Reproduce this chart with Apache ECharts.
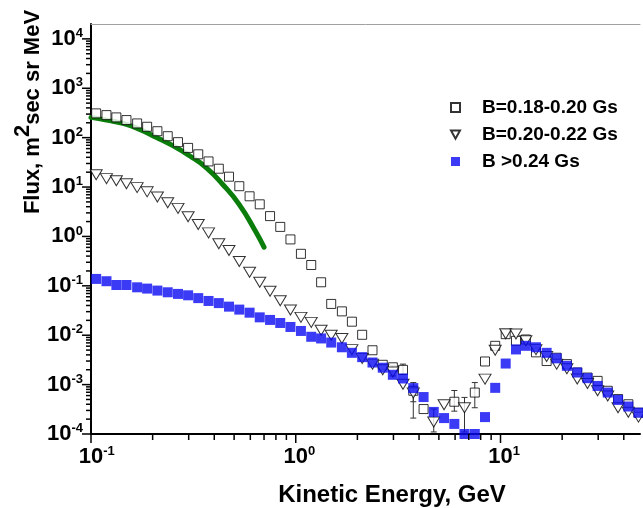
<!DOCTYPE html>
<html>
<head>
<meta charset="utf-8">
<script src="https://cdn.jsdelivr.net/npm/echarts@6/dist/echarts.min.js"></script>
<style>
  html, body { margin: 0; padding: 0; background: #fff; }
  #chart { width: 643px; height: 508px; }
</style>
</head>
<body>
<div id="chart"></div>
<script>
// kinetic energy (GeV)
const energy = [0.106, 0.119, 0.133, 0.149, 0.168, 0.188, 0.211, 0.237, 0.266, 0.298,
  0.334, 0.375, 0.421, 0.472, 0.530, 0.595, 0.667, 0.749, 0.840, 0.942,
  1.06, 1.19, 1.33, 1.49, 1.68, 1.88, 2.11, 2.37, 2.66, 2.98,
  3.34, 3.75, 4.21, 4.72, 5.30, 5.95, 6.67, 7.49, 8.40, 9.42,
  10.6, 11.9, 13.3, 14.9, 16.8, 18.8, 21.1, 23.7, 26.6, 29.8,
  33.4, 37.5, 42.1, 47.2];

// B=0.18-0.20 Gs (open squares)
const fluxB1 = [310, 286, 257, 227, 194, 166, 135, 107, 81, 62,
  46, 33, 23.5, 16.2, 10.4, 6.5, 4.47, 2.58, 1.56, 0.87,
  0.445, 0.264, 0.118, 0.043, 0.0304, 0.0188, 0.0102, 0.00496, 0.00252, 0.00224,
  0.00199, 7.5e-4, 3.2e-4, null, null, 4.5e-4, null, 6.9e-4, 2.94e-3, 6.1e-3,
  0.0105, 0.0077, 0.0082, 0.0045, 0.0030, 0.0035, 0.0026, 0.00176, 0.00139, 0.00119,
  7.5e-4, 5.1e-4, 4.0e-4, 2.7e-4];

// B=0.20-0.22 Gs (open down triangles)
const fluxB2 = [17.7, 14.8, 13.4, 11.7, 9.75, 8.0, 6.3, 4.8, 3.7, 2.5,
  1.75, 1.18, 0.71, 0.52, 0.31, 0.188, 0.118, 0.0775, 0.050, 0.0325,
  0.023, 0.0182, 0.0126, 0.0100, 0.0086, 0.0051, 0.0034, 0.0026, 0.0020, 0.0018,
  0.00102, 6.8e-4, null, 1.75e-4, 3.9e-4, null, 3.4e-4, null, 1.29e-3, 4.96e-3,
  0.0107, 0.0106, 0.0077, 0.0051, 0.0037, 0.0026, 0.0021, 0.0013, 0.00105, 7.5e-4,
  5.9e-4, 3.4e-4, 2.75e-4, 2.2e-4];

// B >0.24 Gs (filled blue squares)
const fluxB3 = [0.138, 0.124, 0.104, 0.104, 0.0933, 0.0879, 0.0801, 0.074, 0.0686, 0.0643,
  0.0564, 0.0494, 0.0447, 0.0379, 0.033, 0.0286, 0.023, 0.0204, 0.0177, 0.0147,
  0.0122, 0.0093, 0.0086, 0.0071, 0.0057, 0.0044, 0.0036, 0.0028, 0.0022, 0.00158,
  0.00133, 8.5e-4, 5.6e-4, 2.8e-4, 2.1e-4, 1.6e-4, 1e-4, 1e-4, 2.2e-4, 8.6e-4,
  0.00267, 0.00515, 0.0061, 0.0057, 0.0044, 0.0034, 0.0024, 0.00176, 0.00135, 9.4e-4,
  6.9e-4, 4.9e-4, 3.6e-4, 2.7e-4];

// green curve
const modelE = [0.1, 0.119, 0.1435, 0.173, 0.208, 0.251, 0.303, 0.365, 0.439, 0.529, 0.637, 0.70];
const modelFlux = [257, 226, 194, 147, 102, 69, 43, 24.8, 11.4, 4.47, 1.26, 0.607];

// visible long error bars around the dip
const errE = [3.34, 3.75, 5.95, 7.49, 4.72, 6.67, 2.98, 3.75];
const errLo = [1.6e-3, 2.1e-4, 2.9e-4, 3.4e-4, 1.1e-4, 1.1e-4, 1.5e-3, 4.5e-4];
const errHi = [2.6e-3, 1.1e-3, 7.6e-4, 1.1e-3, 3.2e-4, 5.5e-4, 2.4e-3, 9e-4];

// axis ticks
const xMajorTicks = [0.1, 1, 10];
const xMinorTicks = [0.2, 0.3, 0.4, 0.5, 0.6, 0.7, 0.8, 0.9, 2, 3, 4, 5, 6, 7, 8, 9, 20, 30, 40];
const yMajorTicks = [1e-4, 1e-3, 1e-2, 1e-1, 1, 10, 100, 1e3, 1e4];
const yMinorTicks = [
  2e-4, 3e-4, 4e-4, 5e-4, 6e-4, 7e-4, 8e-4, 9e-4,
  2e-3, 3e-3, 4e-3, 5e-3, 6e-3, 7e-3, 8e-3, 9e-3,
  2e-2, 3e-2, 4e-2, 5e-2, 6e-2, 7e-2, 8e-2, 9e-2,
  0.2, 0.3, 0.4, 0.5, 0.6, 0.7, 0.8, 0.9,
  2, 3, 4, 5, 6, 7, 8, 9,
  20, 30, 40, 50, 60, 70, 80, 90,
  200, 300, 400, 500, 600, 700, 800, 900,
  2000, 3000, 4000, 5000, 6000, 7000, 8000, 9000];

const X_MIN = 0.1, X_MAX = 48, Y_MIN = 1e-4, Y_MAX = 2e4;
const FONT = 'Liberation Sans, Arial, sans-serif';

const chart = echarts.init(document.getElementById('chart'));

function pairs(xs, ys) {
  const out = [];
  xs.forEach((x, i) => { if (ys[i] != null) out.push([x, ys[i]]); });
  return out;
}

// 对数轴刻度自己画（主刻度 + 2..9 次刻度）
function tickSeries(axis, values, len) {
  return {
    type: 'custom',
    silent: true,
    clip: false,
    z: 10,
    data: values.map(v => axis === 'x' ? [v, Y_MIN] : [X_MIN, v]),
    renderItem(params, api) {
      const p = api.coord([api.value(0), api.value(1)]);
      const shape = axis === 'x'
        ? { x1: p[0], y1: p[1], x2: p[0], y2: p[1] + len }
        : { x1: p[0] - len, y1: p[1], x2: p[0], y2: p[1] };
      return { type: 'line', shape: shape, style: { stroke: '#000', lineWidth: 1.5 } };
    }
  };
}

function powLabel(v) {
  const e = Math.round(Math.log10(v));
  if (Math.abs(Math.log10(v) - e) > 1e-6) return '';
  return e;
}

const richBase = {
  b: { fontSize: 22, fontWeight: 'bold', fontFamily: FONT, color: '#000', lineHeight: 24 },
  s: { fontSize: 13, fontWeight: 'bold', fontFamily: FONT, color: '#000', lineHeight: 14, verticalAlign: 'top' },
  h: { fontSize: 13, fontWeight: 'bold', fontFamily: FONT, color: 'transparent', lineHeight: 14, verticalAlign: 'top' }
};

const option = {
  animation: false,
  backgroundColor: '#fff',
  grid: { left: 91, right: 0, top: 24, bottom: 74 },
  legend: {
    orient: 'vertical',
    left: 445,
    top: 93,
    itemWidth: 9,
    itemHeight: 9,
    itemGap: 8,
    selectedMode: false,
    textStyle: { fontSize: 19, fontWeight: 'bold', fontFamily: FONT, color: '#000', lineHeight: 19, padding: [0, 0, 0, 17] },
    data: [
      { name: 'B=0.18-0.20 Gs' },
      { name: 'B=0.20-0.22 Gs', icon: 'path://M0,0 L12,0 L6,11 Z' },
      { name: 'B >0.24 Gs' }
    ]
  },
  xAxis: [{
    type: 'log',
    logBase: 10,
    min: X_MIN,
    max: X_MAX,
    axisLine: { lineStyle: { color: '#000', width: 2 } },
    axisTick: { show: false },
    splitLine: { show: false },
    axisLabel: {
      margin: 11,
      formatter: v => {
        const e = powLabel(v);
        return e === '' ? '' : '{h|' + e + '}{b|10}{s|' + e + '}';
      },
      rich: richBase
    }
  }, {
    type: 'log',
    position: 'top',
    min: X_MIN,
    max: X_MAX,
    axisLine: { lineStyle: { color: '#a0a0a0', width: 1 } },
    axisTick: { show: false },
    axisLabel: { show: false },
    splitLine: { show: false }
  }],
  yAxis: {
    type: 'log',
    logBase: 10,
    min: Y_MIN,
    max: Y_MAX,
    axisLine: { lineStyle: { color: '#000', width: 2 } },
    axisTick: { show: false },
    splitLine: { show: false },
    axisLabel: {
      margin: 8,
      formatter: v => {
        const e = powLabel(v);
        return e === '' ? '' : '{b|10}{s|' + e + '}';
      },
      rich: richBase
    }
  },
  graphic: [{
    type: 'text',
    x: 28,
    y: 112,
    rotation: Math.PI / 2,
    style: {
      text: '{n|Flux, m}{p|2}{n|sec sr MeV}',
      align: 'center',
      verticalAlign: 'middle',
      rich: {
        n: { fontSize: 22, fontWeight: 'bold', fontFamily: FONT, fill: '#000', lineHeight: 32, verticalAlign: 'bottom' },
        p: { fontSize: 22, fontWeight: 'bold', fontFamily: FONT, fill: '#000', lineHeight: 22, verticalAlign: 'top' }
      }
    }
  }, {
    type: 'text',
    x: 392,
    y: 495,
    style: {
      text: 'Kinetic Energy, GeV',
      align: 'center',
      verticalAlign: 'middle',
      font: 'bold 24px ' + FONT,
      fill: '#000'
    }
  }],
  series: [
    {
      name: 'model',
      type: 'line',
      data: pairs(modelE, modelFlux),
      smooth: true,
      showSymbol: false,
      lineStyle: { color: '#0b7d0b', width: 5, cap: 'round' },
      z: 1
    },
    {
      name: 'errors',
      type: 'custom',
      silent: true,
      z: 2,
      data: errE.map((e, i) => [e, errLo[i], errHi[i]]),
      encode: { x: 0, y: [1, 2] },
      renderItem(params, api) {
        const lo = api.coord([api.value(0), api.value(1)]);
        const hi = api.coord([api.value(0), api.value(2)]);
        return {
          type: 'group',
          children: [
            { type: 'line', shape: { x1: lo[0], y1: lo[1], x2: hi[0], y2: hi[1] }, style: { stroke: '#333', lineWidth: 1 } },
            { type: 'line', shape: { x1: lo[0] - 3, y1: lo[1], x2: lo[0] + 3, y2: lo[1] }, style: { stroke: '#333', lineWidth: 1 } },
            { type: 'line', shape: { x1: hi[0] - 3, y1: hi[1], x2: hi[0] + 3, y2: hi[1] }, style: { stroke: '#333', lineWidth: 1 } }
          ]
        };
      }
    },
    {
      name: 'B=0.18-0.20 Gs',
      type: 'scatter',
      data: pairs(energy, fluxB1),
      symbol: 'rect',
      symbolSize: 9,
      itemStyle: { color: '#fff', borderColor: '#000', borderWidth: 1 },
      z: 3
    },
    {
      name: 'B=0.20-0.22 Gs',
      type: 'scatter',
      data: pairs(energy, fluxB2),
      symbol: 'triangle',
      symbolRotate: 180,
      symbolSize: [12, 10],
      itemStyle: { color: '#fff', borderColor: '#000', borderWidth: 1 },
      z: 4
    },
    {
      name: 'B >0.24 Gs',
      type: 'scatter',
      data: pairs(energy, fluxB3),
      symbol: 'rect',
      symbolSize: 10,
      itemStyle: { color: '#0a0af2' },
      z: 5
    },
    tickSeries('x', xMajorTicks, 9),
    tickSeries('x', xMinorTicks, 6),
    tickSeries('y', yMajorTicks, 9),
    tickSeries('y', yMinorTicks, 5)
  ]
};

chart.setOption(option);
</script>
</body>
</html>
